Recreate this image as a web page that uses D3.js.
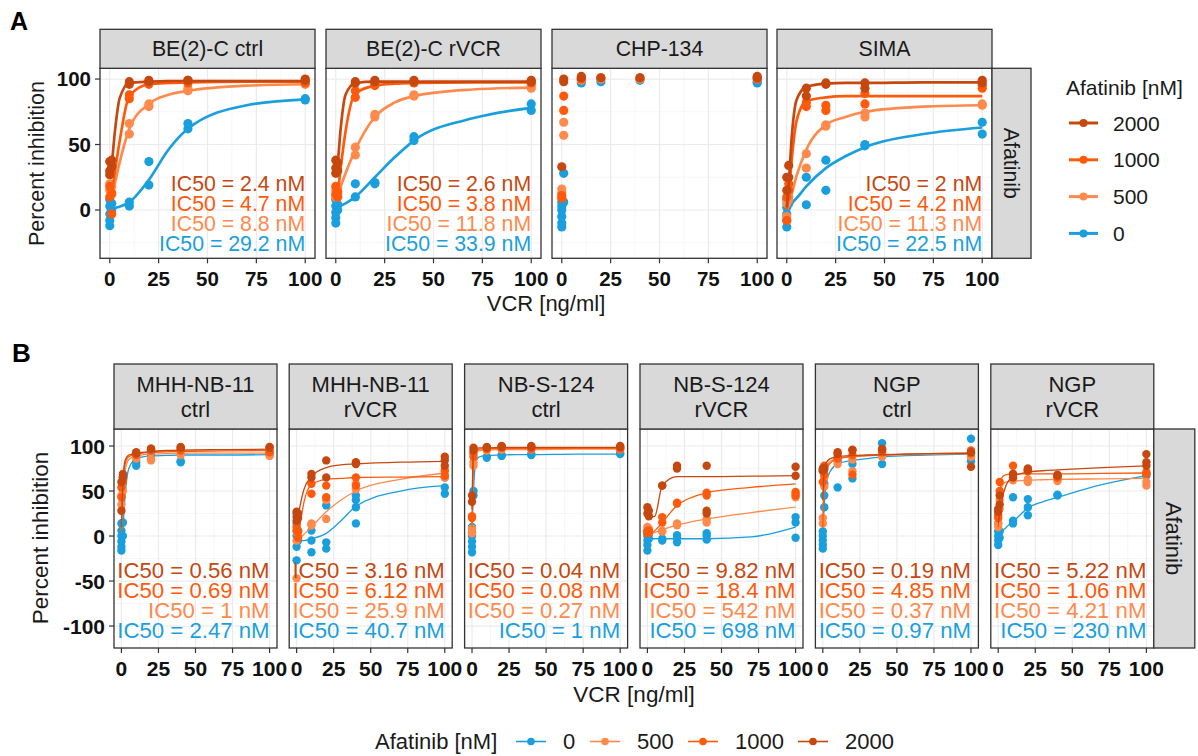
<!DOCTYPE html>
<html lang="en">
<head>
<meta charset="UTF-8">
<title>Afatinib + VCR dose response</title>
<script src="https://d3js.org/d3.v7.min.js"></script>
<style>
    body { margin: 0; background: #fff; font-family: "Liberation Sans", Arial, sans-serif; }
    svg { display: block; }
    .grid-major { stroke: #ebebeb; stroke-width: 1.2; }
    .grid-minor { stroke: #f2f2f2; stroke-width: 0.7; }
    .tick-label { fill: #111; font-weight: bold; }
</style>
</head>
<body>
<div id="chart"></div>
<script>
// ---- data ----
const doses = ["0", "500", "1000", "2000"];
const doseColors = ["#1a9fde", "#ff8a4c", "#ff5a0c", "#c6480f"];
const concs = [0, 1, 10, 20, 40, 100];            // VCR [ng/ml] of the measured points
const fitX = [0, 1, 2.5, 5, 10, 20, 30, 40, 70, 100]; // VCR positions where the fitted curves were read
const xTicks = [0, 25, 50, 75, 100];

// points: one list per Afatinib dose (0, 500, 1000, 2000), replicates per VCR concentration
const be2cCtrlPts = [
    [[-12, -8, -3, 3, 8], [0, 5], [3, 6], [19, 37], [62, 66], [84, 85]],
    [[15, 20], [12, 18], [58, 66], [79, 81], [91, 93], [96, 97]],
    [[10, 18], [-3, 13], [85, 88], [96, 97], [97, 98], [97, 98]],
    [[27, 30, 37], [33, 38], [96, 98], [98, 99], [99, 99], [99, 100]]
];
const be2cCtrlFit = [
    [1, 1, 1.5, 2.5, 6, 23, 46, 62, 80, 84.5],
    [12, 14, 20, 36, 62, 81, 88, 91, 95, 96],
    [8, 12, 28, 52, 87, 96, 97, 97.5, 98, 98],
    [26, 35, 58, 85, 97, 98, 98.5, 98.5, 98.5, 98.5]
];
const be2cCtrlIC50 = ["29.2", "8.8", "4.7", "2.4"];

const be2cRvcrPts = [
    [[-10, -6, -2, 3, 8], [0, 4], [10, 20], [20, 21], [53, 56], [76, 81]],
    [[10, 15], [12, 17], [42, 48], [71, 73], [87, 88], [93, 95]],
    [[12, 18], [10, 14], [86, 91], [95, 96], [97, 98], [97, 98]],
    [[28, 32, 38], [30, 36], [97, 98], [98, 99], [98, 99], [98, 99]]
];
const be2cRvcrFit = [
    [0, 1, 3, 5, 10, 25, 40, 53, 70, 78],
    [10, 13, 18, 28, 46, 71, 82, 87, 92, 93.5],
    [10, 14, 32, 60, 89, 95, 96.5, 97, 97.5, 97.5],
    [26, 36, 62, 88, 97, 98, 98, 98, 98, 98]
];
const be2cRvcrIC50 = ["33.9", "11.8", "3.8", "2.6"];

const chp134Pts = [
    [[-13, -10, -5, 0, 3, 6], [6, 28], [97], [98], [99], [97, 98]],
    [[13, 16], [57, 67], [99, 100], [100], [100], [100]],
    [[9, 11], [76, 87], [100], [101], [101], [100]],
    [[33], [98, 100], [101, 102], [101], [101], [101, 102]]
];

const simaPts = [
    [[-13, -8, -3, 2, 8], [5, 10], [4, 25], [15, 38], [49, 50], [58, 67]],
    [[-5, 5], [8, 15], [32, 43], [64, 65], [71, 74], [80, 81]],
    [[-8, 10], [15, 20], [79, 82], [76, 80], [81, 89], [93, 95]],
    [[15, 25], [25, 34], [87, 93], [96, 97], [93, 97], [97, 99]]
];
const simaFit = [
    [0, 2, 5, 9, 18, 32, 41, 48, 58, 63],
    [0, 4, 12, 26, 46, 65, 71, 75, 79, 80],
    [0, 12, 38, 68, 83, 86, 87, 87, 87, 87],
    [2, 20, 55, 84, 94, 96.5, 97, 97, 97.5, 97.5]
];
const simaIC50 = ["22.5", "11.3", "4.2", "2"];

const mhhCtrlPts = [
    [[-16, -12, -6, 0, 6, 14], [0, 15], [78, 82], [90, 90], [82, 83], [90, 91]],
    [[35, 45], [50, 60], [86, 88], [84, 86], [90, 91], [89, 92]],
    [[43, 54], [60, 65], [90, 91], [95, 96], [95, 96], [93, 94]],
    [[28, 60], [65, 69], [92, 93], [97, 97], [98, 99], [98, 99]]
];
const mhhCtrlFit = [
    [0, 10, 45, 75, 86, 89, 89.5, 90, 90, 90.5],
    [5, 45, 72, 85, 89, 91, 91.5, 92, 92, 92],
    [5, 55, 80, 88, 91, 93, 93.5, 94, 94.5, 95],
    [10, 60, 84, 90, 92, 94, 95, 95.5, 96, 96.5]
];
const mhhCtrlIC50 = ["2.47", "1", "0.69", "0.56"];

const mhhRvcrPts = [
    [[-27, -12, 0, 14, 25], [-5, 6], [-18, -5, 6], [-14, -7, 34], [14, 32, 40, 45], [47, 54, 65]],
    [[-47, -5, 5], [0, 5], [12, 14], [19, 40], [52, 58], [65, 71]],
    [[6, 10], [-2, 5], [47, 58], [43, 56], [56, 65], [67, 73]],
    [[17, 21, 27], [20, 25], [65, 69], [65, 84], [80, 82], [78, 84, 88]]
];
const mhhRvcrFit = [
    [-5, -5, -5, -5, -3, 3, 17, 33, 50, 56],
    [-5, -4, -2, 2, 10, 27, 40, 50, 63, 70],
    [-5, 0, 15, 38, 57, 63, 64, 65, 65.5, 66],
    [15, 22, 35, 52, 66, 76, 79, 80, 82, 83]
];
const mhhRvcrIC50 = ["40.7", "25.9", "6.12", "3.16"];

const nbsCtrlPts = [
    [[-18, -12, -6, 0, 4, 10], [45, 50], [87, 88], [89, 90], [90, 91], [91, 92]],
    [[3, 8], [78, 82], [95, 96], [96, 97], [96, 97], [96, 97]],
    [[20, 22], [88, 92], [97, 98], [98, 99], [97, 98], [97, 98]],
    [[38, 45], [95, 98], [98, 99], [99, 100], [99, 100], [99, 100]]
];
const nbsCtrlFit = [
    [5, 50, 82, 88, 89.5, 90, 90.5, 90.5, 91, 91],
    [5, 80, 93, 95, 95.5, 96, 96, 96, 96.5, 96.5],
    [10, 88, 95, 96.5, 97, 97, 97.5, 97.5, 97.5, 97.5],
    [30, 94, 97, 98, 98, 98.5, 98.5, 98.5, 98.5, 98.5]
];
const nbsCtrlIC50 = ["1", "0.27", "0.08", "0.04"];

const nbsRvcrPts = [
    [[-16, -10, -5, 0, 3], [-3, 2], [-5, -3], [-7, -2, 1], [-4, 0, 3], [-2, 15, 21]],
    [[6, 10], [5, 8], [5, 6], [12, 14], [15, 19], [43, 47]],
    [[3, 6], [4, 6], [15, 21], [36, 37], [45, 48], [45, 49]],
    [[25, 32], [22, 28], [56, 56], [75, 78], [25, 28, 78], [67, 77]]
];
const nbsRvcrFit = [
    [-3, -3, -3, -3, -3, -3, -3, -3, -1, 10],
    [0, 1, 2, 4, 7, 12, 16, 19, 26, 32],
    [0, 1, 3, 6, 15, 34, 43, 48, 54, 58],
    [21, 21, 21, 22, 56, 66, 66, 66, 66.5, 67]
];
const nbsRvcrIC50 = ["698", "542", "18.4", "9.82"];

const ngpCtrlPts = [
    [[-14, -10, -5, 0, 5], [32, 45, 58], [54, 83], [64, 80], [80, 103], [83, 108]],
    [[14, 20], [55, 65], [80, 85], [72, 85], [88, 90], [88, 92]],
    [[60, 72], [68, 78], [86, 88], [68, 90], [93, 95], [92, 95]],
    [[73, 75], [74, 76], [91, 93], [95, 96], [96, 97], [77, 93]]
];
const ngpCtrlFit = [
    [0, 35, 60, 72, 80, 84, 86, 88, 90, 91],
    [10, 65, 78, 83, 86, 88, 89, 90, 91, 91.5],
    [10, 60, 74, 81, 86, 88.5, 89.5, 90, 91.5, 92],
    [40, 75, 82, 86, 88, 89.5, 90, 90.5, 91.5, 92]
];
const ngpCtrlIC50 = ["0.97", "0.37", "4.85", "0.19"];

const ngpRvcrPts = [
    [[-10, -5, 0, 5, 14], [-2, 5], [14, 17, 43], [23, 32, 41], [45, 46], [67, 69]],
    [[10, 14], [30, 40], [62, 64], [60, 63], [61, 63], [56, 60]],
    [[20, 23], [50, 60], [69, 78], [72, 74], [65, 66], [69, 71]],
    [[27, 30], [35, 45], [65, 69], [73, 75], [67, 68], [78, 82, 91]]
];
const ngpRvcrFit = [
    [-6, 0, 5, 9, 16, 31, 38, 43, 57, 67],
    [5, 30, 55, 60, 61, 62, 62.5, 63, 63.5, 64],
    [10, 40, 65, 68, 69, 69, 69, 69, 69.5, 70],
    [15, 25, 40, 55, 66, 71, 72.5, 73.5, 76, 78]
];
const ngpRvcrIC50 = ["230", "4.21", "1.06", "5.22"];

const rowANames = [["BE(2)-C ctrl"], ["BE(2)-C rVCR"], ["CHP-134"], ["SIMA"]];
const rowBNames = [["MHH-NB-11", "ctrl"], ["MHH-NB-11", "rVCR"], ["NB-S-124", "ctrl"],
                   ["NB-S-124", "rVCR"], ["NGP", "ctrl"], ["NGP", "rVCR"]];

// ---- layout ----
const W = 1198, H = 756;
const FONT = '"Liberation Sans", Arial, sans-serif';

const rowA = {
    stripTop: 29.3, top: 68.3, bottom: 258.3, width: 215,
    lefts: [100, 326, 552, 777], yDomain: [-36.9, 108.2],
    yTicks: [0, 50, 100], yMinor: [-25, 25, 75],
    font: 21.3, stripFont: 21.3, tickFont: 20.5, lineW: 2.7, r: 4.6,
    labelPad: 15.3, labelStep: 20, stripLineH: 22,
    panels: [
        { pts: be2cCtrlPts, fit: be2cCtrlFit, ic50: be2cCtrlIC50 },
        { pts: be2cRvcrPts, fit: be2cRvcrFit, ic50: be2cRvcrIC50 },
        { pts: chp134Pts, fit: null, ic50: null },
        { pts: simaPts, fit: simaFit, ic50: simaIC50 }
    ],
    names: rowANames, rightStripW: 39
};

const rowB = {
    stripTop: 364, top: 429, bottom: 648, width: 163,
    lefts: [114, 289.2, 464.6, 640, 815.4, 990.8], yDomain: [-124.4, 118.9],
    yTicks: [-100, -50, 0, 50, 100], yMinor: [-75, -25, 25, 75],
    font: 22.2, stripFont: 22, tickFont: 21, lineW: 1.3, r: 4.2,
    labelPad: 18, labelStep: 20, stripLineH: 25,
    panels: [
        { pts: mhhCtrlPts, fit: mhhCtrlFit, ic50: mhhCtrlIC50 },
        { pts: mhhRvcrPts, fit: mhhRvcrFit, ic50: mhhRvcrIC50 },
        { pts: nbsCtrlPts, fit: nbsCtrlFit, ic50: nbsCtrlIC50 },
        { pts: nbsRvcrPts, fit: nbsRvcrFit, ic50: nbsRvcrIC50 },
        { pts: ngpCtrlPts, fit: ngpCtrlFit, ic50: ngpCtrlIC50 },
        { pts: ngpRvcrPts, fit: ngpRvcrFit, ic50: ngpRvcrIC50 }
    ],
    names: rowBNames, rightStripW: 41
};

const svg = d3.select("#chart").append("svg")
    .attr("width", W).attr("height", H)
    .style("font-family", FONT);

svg.append("rect").attr("width", W).attr("height", H).attr("fill", "#fff");

function drawRow(row) {
    const y = d3.scaleLinear().domain(row.yDomain).range([row.bottom, row.top]);

    row.panels.forEach((p, i) => {
        const left = row.lefts[i];
        const x = d3.scaleLinear().domain([-5, 105]).range([left, left + row.width]);
        const g = svg.append("g");

        // grid
        g.selectAll(".xm").data([12.5, 37.5, 62.5, 87.5]).join("line")
            .attr("class", "grid-minor")
            .attr("x1", d => x(d)).attr("x2", d => x(d))
            .attr("y1", row.top).attr("y2", row.bottom);
        g.selectAll(".ym").data(row.yMinor).join("line")
            .attr("class", "grid-minor")
            .attr("x1", left).attr("x2", left + row.width)
            .attr("y1", d => y(d)).attr("y2", d => y(d));
        g.selectAll(".xM").data(xTicks).join("line")
            .attr("class", "grid-major")
            .attr("x1", d => x(d)).attr("x2", d => x(d))
            .attr("y1", row.top).attr("y2", row.bottom);
        g.selectAll(".yM").data(row.yTicks).join("line")
            .attr("class", "grid-major")
            .attr("x1", left).attr("x2", left + row.width)
            .attr("y1", d => y(d)).attr("y2", d => y(d));

        // fitted curves + points
        const line = d3.line().x(d => x(d[0])).y(d => y(d[1])).curve(d3.curveMonotoneX);
        doses.forEach((dose, k) => {
            if (p.fit) {
                g.append("path")
                    .attr("d", line(fitX.map((fx, j) => [fx, p.fit[k][j]])))
                    .attr("fill", "none")
                    .attr("stroke", doseColors[k])
                    .attr("stroke-width", row.lineW);
            }
            const pts = [];
            p.pts[k].forEach((reps, j) => reps.forEach(v => pts.push([concs[j], v])));
            g.selectAll(null).data(pts).join("circle")
                .attr("cx", d => x(d[0])).attr("cy", d => y(d[1]))
                .attr("r", row.r).attr("fill", doseColors[k]);
        });

        // IC50 labels (2000 on top ... 0 at bottom)
        if (p.ic50) {
            [3, 2, 1, 0].forEach((k, line_i) => {
                g.append("text")
                    .attr("x", x(100))
                    .attr("y", row.bottom - row.labelPad - (3 - line_i) * row.labelStep)
                    .attr("dy", "0.36em")
                    .attr("text-anchor", "end")
                    .attr("font-size", row.font)
                    .attr("fill", doseColors[k])
                    .text(`IC50 = ${p.ic50[k]} nM`);
            });
        }

        // border
        g.append("rect")
            .attr("x", left).attr("y", row.top)
            .attr("width", row.width).attr("height", row.bottom - row.top)
            .attr("fill", "none").attr("stroke", "#333").attr("stroke-width", 1.3);

        // strip
        g.append("rect")
            .attr("x", left).attr("y", row.stripTop)
            .attr("width", row.width).attr("height", row.top - row.stripTop)
            .attr("fill", "#d9d9d9").attr("stroke", "#333").attr("stroke-width", 1.3);
        const nm = row.names[i];
        const midY = (row.stripTop + row.top) / 2;
        nm.forEach((t, j) => {
            g.append("text")
                .attr("x", left + row.width / 2)
                .attr("y", midY + (j - (nm.length - 1) / 2) * row.stripLineH)
                .attr("dy", "0.36em")
                .attr("text-anchor", "middle")
                .attr("font-size", row.stripFont)
                .attr("fill", "#1a1a1a")
                .text(t);
        });

        // x axis
        const xa = g.append("g").attr("transform", `translate(0,${row.bottom})`);
        xTicks.forEach(t => {
            xa.append("line").attr("x1", x(t)).attr("x2", x(t)).attr("y1", 0).attr("y2", 5)
                .attr("stroke", "#333").attr("stroke-width", 1.2);
            xa.append("text").attr("class", "tick-label")
                .attr("x", x(t)).attr("y", 20).attr("dy", "0.36em")
                .attr("text-anchor", "middle").attr("font-size", row.tickFont)
                .text(t);
        });

        // y axis on first panel
        if (i === 0) {
            row.yTicks.forEach(t => {
                g.append("line").attr("x1", left - 5).attr("x2", left)
                    .attr("y1", y(t)).attr("y2", y(t))
                    .attr("stroke", "#333").attr("stroke-width", 1.2);
                g.append("text").attr("class", "tick-label")
                    .attr("x", left - 9).attr("y", y(t)).attr("dy", "0.36em")
                    .attr("text-anchor", "end").attr("font-size", row.tickFont)
                    .text(t);
            });
        }
    });

    // right strip
    const last = row.lefts[row.lefts.length - 1] + row.width;
    svg.append("rect")
        .attr("x", last).attr("y", row.top)
        .attr("width", row.rightStripW).attr("height", row.bottom - row.top)
        .attr("fill", "#d9d9d9").attr("stroke", "#333").attr("stroke-width", 1.3);
    svg.append("text")
        .attr("transform", `translate(${last + row.rightStripW / 2},${(row.top + row.bottom) / 2}) rotate(90)`)
        .attr("text-anchor", "middle").attr("dy", "0.36em")
        .attr("font-size", row.stripFont).attr("fill", "#1a1a1a")
        .text("Afatinib");
}

drawRow(rowA);
drawRow(rowB);

// panel letters
svg.append("text").attr("x", 10).attr("y", 30).attr("font-size", 25)
    .attr("font-weight", "bold").text("A");
svg.append("text").attr("x", 12).attr("y", 362).attr("font-size", 26)
    .attr("font-weight", "bold").text("B");

// axis titles
svg.append("text").attr("x", 546).attr("y", 303).attr("dy", "0.36em")
    .attr("text-anchor", "middle").attr("font-size", 22).attr("fill", "#1a1a1a")
    .text("VCR [ng/ml]");
svg.append("text").attr("x", 634).attr("y", 694).attr("dy", "0.36em")
    .attr("text-anchor", "middle").attr("font-size", 22.5).attr("fill", "#1a1a1a")
    .text("VCR [ng/ml]");
svg.append("text").attr("transform", "translate(36.7,163.5) rotate(-90)")
    .attr("text-anchor", "middle").attr("dy", "0.36em")
    .attr("font-size", 21.5).attr("fill", "#1a1a1a").text("Percent inhibition");
svg.append("text").attr("transform", "translate(40,538) rotate(-90)")
    .attr("text-anchor", "middle").attr("dy", "0.36em")
    .attr("font-size", 22.5).attr("fill", "#1a1a1a").text("Percent inhibition");

// legend A (vertical, 2000 on top)
const legA = svg.append("g");
legA.append("text").attr("x", 1066).attr("y", 87).attr("dy", "0.36em")
    .attr("font-size", 21).attr("fill", "#1a1a1a").text("Afatinib [nM]");
[3, 2, 1, 0].forEach((k, j) => {
    const cy = 123 + j * 36.8;
    legA.append("line").attr("x1", 1069).attr("x2", 1098).attr("y1", cy).attr("y2", cy)
        .attr("stroke", doseColors[k]).attr("stroke-width", 3);
    legA.append("circle").attr("cx", 1083.5).attr("cy", cy).attr("r", 4).attr("fill", doseColors[k]);
    legA.append("text").attr("x", 1113).attr("y", cy).attr("dy", "0.36em")
        .attr("font-size", 21).attr("fill", "#1a1a1a").text(doses[k]);
});

// legend B (horizontal)
const legB = svg.append("g");
const legBy = 741.5;
legB.append("text").attr("x", 375).attr("y", legBy).attr("dy", "0.36em")
    .attr("font-size", 22).attr("fill", "#1a1a1a").text("Afatinib [nM]");
const keyX = [516, 590, 688, 798];
doses.forEach((dose, k) => {
    legB.append("line").attr("x1", keyX[k]).attr("x2", keyX[k] + 30)
        .attr("y1", legBy).attr("y2", legBy)
        .attr("stroke", doseColors[k]).attr("stroke-width", 1.6);
    legB.append("circle").attr("cx", keyX[k] + 15).attr("cy", legBy).attr("r", 3.8)
        .attr("fill", doseColors[k]);
    legB.append("text").attr("x", keyX[k] + 47).attr("y", legBy).attr("dy", "0.36em")
        .attr("font-size", 22).attr("fill", "#1a1a1a").text(dose);
});
</script>
</body>
</html>
